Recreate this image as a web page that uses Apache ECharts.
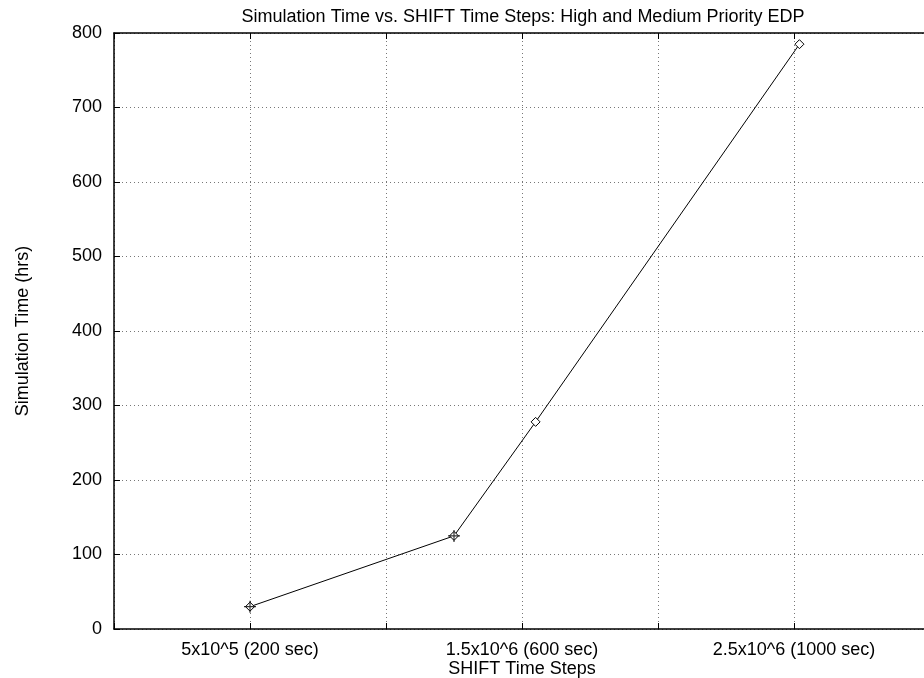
<!DOCTYPE html>
<html>
<head>
<meta charset="utf-8">
<script src="https://cdn.jsdelivr.net/npm/echarts@6/dist/echarts.min.js"></script>
<style>
  html, body { margin: 0; padding: 0; background: #fff; }
  #chart { width: 924px; height: 678px; }
</style>
</head>
<body>
<div id="chart"></div>
<script>
// time steps (x) and simulation hours (y)
const timeSteps = [5e5, 1.25e6, 1.55e6, 2.52e6];
const simHours = [30, 125, 278, 785];
// points that show a doubled marker (diamond + cross)
const crossSteps = [5e5, 1.25e6];
const crossHours = [30, 125];
// labelled x ticks
const tickValues = [5e5, 1.5e6, 2.5e6];
const tickLabels = ['5x10^5 (200 sec)', '1.5x10^6 (600 sec)', '2.5x10^6 (1000 sec)'];

const font = 'Liberation Sans, Arial, sans-serif';
const fs = 18;
const gridLine = { show: true, lineStyle: { color: '#777', type: [1, 3], width: 1 } };
const tick = { show: true, inside: true, length: 6, lineStyle: { color: '#000', width: 1 } };

const chart = echarts.init(document.getElementById('chart'));

chart.setOption({
  animation: false,
  backgroundColor: '#fff',
  title: {
    text: 'Simulation Time vs. SHIFT Time Steps: High and Medium Priority EDP',
    left: 518, textAlign: 'center', top: 3,
    textStyle: { fontFamily: font, fontSize: fs, fontWeight: 'normal', color: '#000' }
  },
  // plot runs past the right edge of the picture, as in the reference
  grid: { left: 114, right: -6, top: 33, bottom: 49, outerBoundsMode: 'none', containLabel: false },
  xAxis: [{
    type: 'value', min: 0, max: 3e6, interval: 5e5,
    name: 'SHIFT Time Steps', nameLocation: 'middle', nameGap: 31, nameMoveOverlap: false,
    nameTextStyle: { fontFamily: font, fontSize: fs, color: '#000' },
    axisLine: { onZero: false, lineStyle: { color: '#000', width: 1.5 } },
    axisTick: tick,
    axisLabel: {
      margin: 12, fontFamily: font, fontSize: fs, color: '#000',
      formatter: v => {
        const i = tickValues.indexOf(v);
        return i >= 0 ? tickLabels[i] : '';
      }
    },
    splitLine: gridLine
  }, {
    type: 'value', position: 'top', min: 0, max: 3e6, interval: 5e5,
    axisLine: { show: true, onZero: false, lineStyle: { color: '#000', width: 1.5 } },
    axisTick: tick,
    axisLabel: { show: false }, splitLine: { show: false }
  }],
  yAxis: [{
    type: 'value', min: 0, max: 800, interval: 100,
    name: 'Simulation Time (hrs)', nameLocation: 'middle', nameGap: 82, nameRotate: 90,
    nameMoveOverlap: false,
    nameTextStyle: { fontFamily: font, fontSize: fs, color: '#000' },
    axisLine: { show: true, onZero: false, lineStyle: { color: '#000', width: 1.5 } },
    axisTick: tick,
    axisLabel: { margin: 12, fontFamily: font, fontSize: fs, color: '#000' },
    splitLine: gridLine
  }, {
    type: 'value', position: 'right', min: 0, max: 800, interval: 100,
    axisLine: { show: true, onZero: false, lineStyle: { color: '#000', width: 1.5 } },
    axisTick: tick,
    axisLabel: { show: false }, splitLine: { show: false }
  }],
  series: [{
    type: 'line',
    data: timeSteps.map((x, i) => [x, simHours[i]]),
    lineStyle: { color: '#000', width: 1 },
    symbol: 'diamond', symbolSize: 9, showSymbol: true,
    itemStyle: { color: '#fff', borderColor: '#000', borderWidth: 1 },
    z: 3
  }, {
    type: 'scatter',
    data: crossSteps.map((x, i) => [x, crossHours[i]]),
    symbol: 'path://M5,0 L5,10 M0,5 L10,5',
    symbolSize: 12,
    itemStyle: { color: 'none', borderColor: '#000', borderWidth: 1.2 },
    z: 4
  }]
});
</script>
</body>
</html>
